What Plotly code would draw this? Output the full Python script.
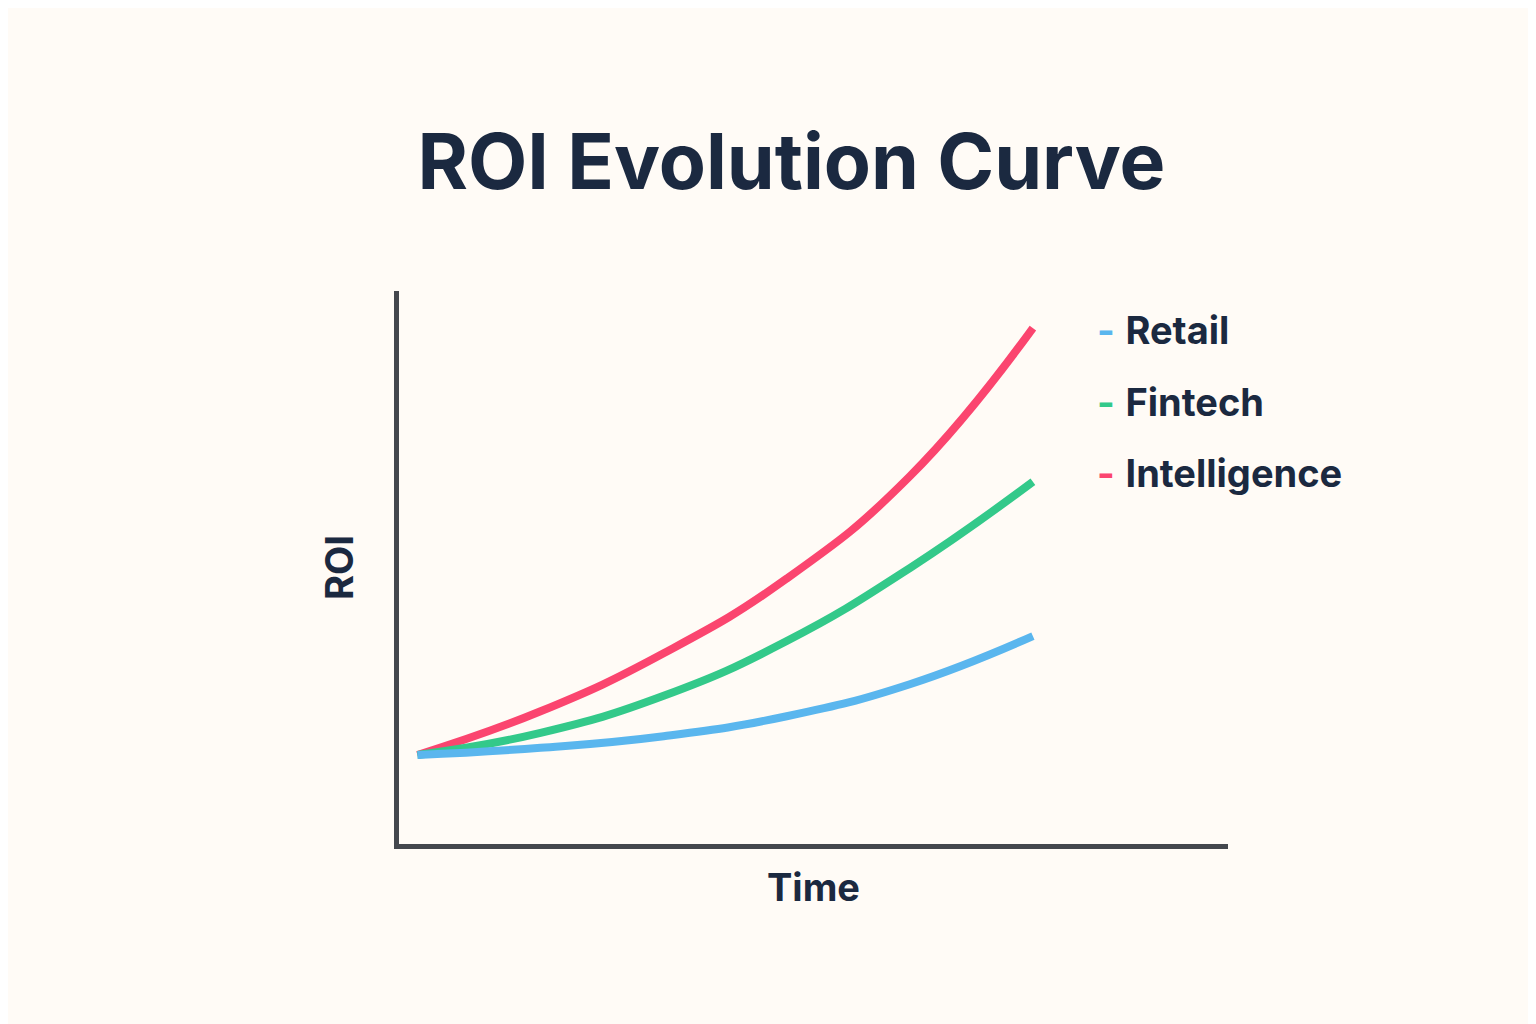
import plotly.graph_objects as go

# ---- data (arbitrary units) ----
time = [0, 2, 4, 6, 8, 10]
retail = [1.61, 1.74, 1.95, 2.31, 2.89, 3.76]
fintech = [1.61, 2.01, 2.68, 3.67, 4.99, 6.55]
intelligence = [1.61, 2.40, 3.45, 4.80, 6.65, 9.33]

series = [
    ("Retail", retail, "#5ab6ee"),
    ("Fintech", fintech, "#33c98a"),
    ("Intelligence", intelligence, "#fb456f"),
]

BG = "#fffbf6"
INK = "#1b2940"

fig = go.Figure()
# draw blue last so it sits on top like the reference
for name, vals, col in reversed(series):
    fig.add_trace(go.Scatter(
        x=time, y=vals, name=name, mode="lines",
        line=dict(color=col, width=8, shape="spline", smoothing=1.3),
        showlegend=False,
    ))

# hand-made legend: small dash + label
for i, (name, vals, col) in enumerate(series):
    fig.add_annotation(
        xref="paper", yref="paper", x=0.84, y=0.93 - i * 0.13,
        xanchor="left", yanchor="middle", showarrow=False,
        text=f"<span style='color:{col}'><b>-</b></span> <b>{name}</b>",
        font=dict(family="Inter", size=38, color=INK),
    )

fig.update_layout(
    width=1536, height=1024,
    paper_bgcolor=BG, plot_bgcolor=BG,
    margin=dict(l=391, r=316, t=283, b=188),
    title=dict(text="<b>ROI Evolution Curve</b>", x=0.51, xanchor="center",
               y=0.85, yanchor="middle",
               font=dict(family="Inter", size=77, color=INK)),
    font=dict(family="Inter", color=INK),
    xaxis=dict(range=[-0.3, 13.17], showline=True, linewidth=5, linecolor="#44474d",
               showgrid=False, zeroline=False, showticklabels=False, ticks="",
               title=dict(text="<b>Time</b>", font=dict(size=38, color=INK), standoff=28)),
    yaxis=dict(range=[0, 10], showline=True, linewidth=5, linecolor="#44474d",
               showgrid=False, zeroline=False, showticklabels=False, ticks="",
               title=dict(text="<b>ROI</b>", font=dict(size=38, color=INK), standoff=30)),
)

fig.write_html("out.html")
